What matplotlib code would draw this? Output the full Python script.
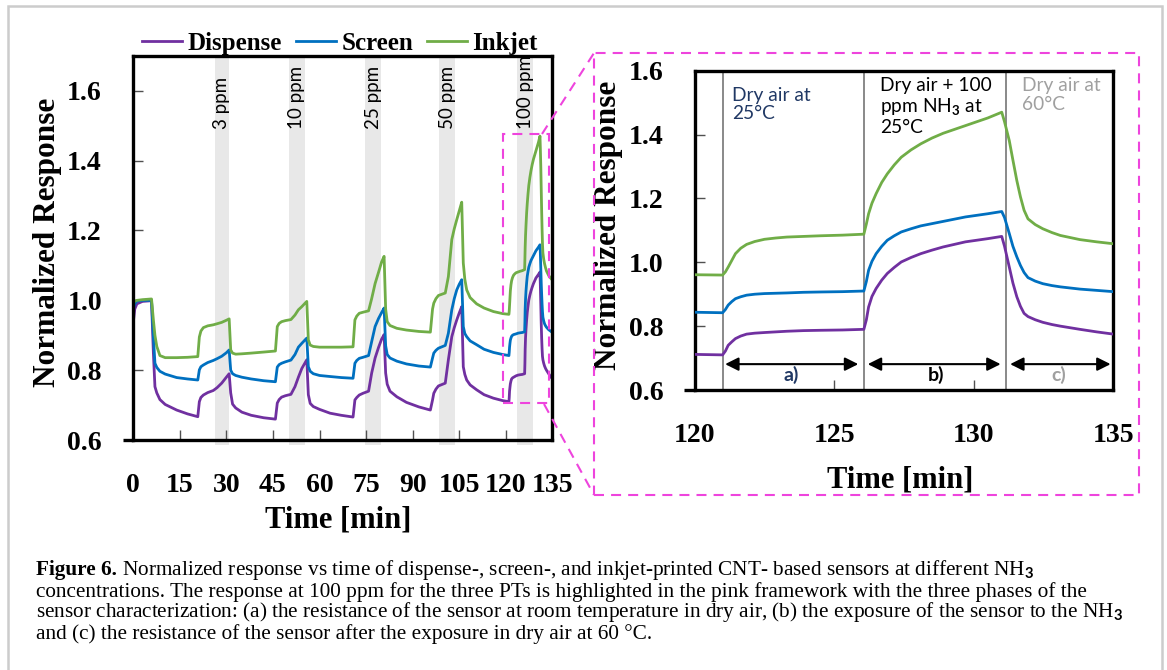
import numpy as np
import matplotlib.pyplot as plt
from matplotlib.patches import Rectangle
from matplotlib.lines import Line2D

plt.rcParams['font.family'] = 'Liberation Serif'
plt.rcParams['font.weight'] = 'bold'
plt.rcParams['axes.labelweight'] = 'bold'
plt.rcParams['mathtext.fontset'] = 'custom'
plt.rcParams['mathtext.rm'] = 'Lato'
plt.rcParams['mathtext.it'] = 'Lato:italic'
plt.rcParams['mathtext.bf'] = 'Lato:bold'

# time [min], shared by the three printing techniques
time_min = [0, 0.5, 1.2, 3.0, 5.9,
            6.5, 7.0, 7.6, 8.6, 10.3, 14.0, 17.5, 20.8,
            21.3, 21.8, 22.6, 24.0, 25.8, 27.0, 28.5, 30.0, 30.9,
            31.4, 32.0, 33.0, 35.0, 38.0, 42.0, 45.8,
            46.4, 47.0, 47.8, 49.0, 50.8, 52.1, 53.2, 54.3, 55.9,
            56.4, 57.0, 58.0, 60.0, 63.4, 67.0, 70.8,
            71.4, 72.0, 72.8, 74.0, 75.8, 76.8, 77.9, 79.0, 80.0, 80.8,
            81.3, 81.8, 82.7, 84.9, 88.0, 92.0, 95.7,
            96.4, 96.8, 97.5, 98.3, 100.5, 101.5, 102.6, 103.4, 104.2, 105.0, 105.8,
            106.3, 106.8, 107.4, 108.5, 110.6, 113.0, 116.0, 119.0, 121.0,
            121.1, 121.2, 121.33, 121.46, 121.65, 121.86, 122.15, 122.5, 122.9, 123.3,
            123.9, 124.5, 125.3, 126.06,
            126.15, 126.23, 126.35, 126.5, 126.7, 126.9, 127.15, 127.4, 127.75, 128.1,
            128.5, 128.9, 129.3, 129.7, 130.1, 130.5, 131.0,
            131.1, 131.27, 131.4, 131.54, 131.67, 131.8, 131.94, 132.2, 132.47, 132.8,
            133.1, 133.8, 134.4, 135.0]

dispense = [0.935, 0.975, 0.990, 0.997, 0.999,
            0.849, 0.753, 0.735, 0.716, 0.702, 0.686, 0.675, 0.667,
            0.710, 0.722, 0.729, 0.736, 0.742, 0.750, 0.763, 0.780, 0.790,
            0.735, 0.703, 0.692, 0.680, 0.671, 0.664, 0.660,
            0.706, 0.716, 0.723, 0.727, 0.731, 0.753, 0.780, 0.805, 0.830,
            0.730, 0.705, 0.696, 0.688, 0.677, 0.671, 0.666,
            0.715, 0.722, 0.729, 0.734, 0.740, 0.792, 0.835, 0.865, 0.889, 0.902,
            0.792, 0.760, 0.740, 0.724, 0.708, 0.695, 0.686,
            0.715, 0.734, 0.746, 0.755, 0.763, 0.830, 0.896, 0.922, 0.944, 0.964, 0.982,
            0.810, 0.788, 0.772, 0.758, 0.744, 0.730, 0.720, 0.713, 0.710,
            0.722, 0.740, 0.751, 0.761, 0.769, 0.775, 0.778, 0.780, 0.782, 0.784,
            0.786, 0.787, 0.788, 0.790,
            0.820, 0.860, 0.893, 0.918, 0.944, 0.965, 0.984, 1.001, 1.015, 1.027,
            1.038, 1.048, 1.056, 1.064, 1.069, 1.074, 1.081,
            1.050, 0.985, 0.935, 0.892, 0.862, 0.840, 0.830, 0.820, 0.812, 0.805,
            0.800, 0.790, 0.782, 0.775]

screen = [0.975, 0.990, 0.998, 1.000, 1.000,
          0.896, 0.820, 0.808, 0.797, 0.789, 0.779, 0.775, 0.772,
          0.801, 0.810, 0.815, 0.822, 0.828, 0.833, 0.840, 0.850, 0.858,
          0.800, 0.790, 0.785, 0.780, 0.775, 0.770, 0.767,
          0.809, 0.816, 0.820, 0.824, 0.829, 0.845, 0.866, 0.877, 0.892,
          0.810, 0.797, 0.790, 0.785, 0.782, 0.779, 0.777,
          0.820, 0.828, 0.834, 0.837, 0.842, 0.882, 0.925, 0.948, 0.965, 0.978,
          0.870, 0.845, 0.835, 0.826, 0.818, 0.812, 0.809,
          0.835, 0.849, 0.857, 0.863, 0.871, 0.906, 0.973, 1.005, 1.030, 1.046, 1.059,
          0.925, 0.905, 0.896, 0.884, 0.873, 0.860, 0.851, 0.845, 0.842,
          0.852, 0.866, 0.877, 0.886, 0.892, 0.897, 0.900, 0.902, 0.903, 0.904,
          0.906, 0.907, 0.908, 0.910,
          0.940, 0.975, 1.003, 1.027, 1.050, 1.069, 1.083, 1.095, 1.105, 1.114,
          1.121, 1.128, 1.135, 1.142, 1.147, 1.152, 1.159,
          1.140, 1.090, 1.050, 1.017, 0.990, 0.968, 0.952, 0.941, 0.933, 0.927,
          0.923, 0.916, 0.912, 0.908]

inkjet = [0.990, 0.998, 1.000, 1.002, 1.004,
          0.944, 0.900, 0.868, 0.842, 0.836, 0.836, 0.837, 0.839,
          0.895, 0.912, 0.922, 0.927, 0.930, 0.933, 0.937, 0.943, 0.947,
          0.858, 0.849, 0.846, 0.847, 0.849, 0.852, 0.855,
          0.925, 0.934, 0.939, 0.942, 0.945, 0.958, 0.973, 0.982, 0.997,
          0.887, 0.872, 0.868, 0.866, 0.866, 0.866, 0.867,
          0.944, 0.955, 0.963, 0.966, 0.970, 1.005, 1.048, 1.080, 1.110, 1.126,
          0.975, 0.939, 0.928, 0.920, 0.915, 0.911, 0.909,
          0.975, 0.992, 1.005, 1.014, 1.021, 1.068, 1.174, 1.205, 1.231, 1.256, 1.281,
          1.107, 1.060, 1.030, 1.008, 0.990, 0.978, 0.968, 0.962, 0.960,
          0.970, 0.985, 1.006, 1.027, 1.044, 1.056, 1.065, 1.072, 1.076, 1.079,
          1.081, 1.083, 1.085, 1.088,
          1.120, 1.152, 1.185, 1.215, 1.250, 1.277, 1.305, 1.329, 1.352, 1.371,
          1.389, 1.404, 1.416, 1.428, 1.440, 1.452, 1.470,
          1.440, 1.381, 1.320, 1.256, 1.205, 1.163, 1.136, 1.118, 1.105, 1.093,
          1.084, 1.071, 1.064, 1.058]

series_names = ['Dispense', 'Screen', 'Inkjet']
series_colors = ['#7030A0', '#0070C0', '#70AD47']

# NH3 exposure bands (grey) on the overview
band_start = [26.2, 50.2, 74.7, 98.6, 123.7]
band_end = [30.9, 55.3, 79.8, 103.6, 128.8]
band_labels = ['3 ppm', '10 ppm', '25 ppm', '50 ppm', '100 ppm']

# phases of the 100 ppm cycle
phase_lines = [121.0, 126.06, 131.16]
phase_arrows = [(121.09, 125.86), (126.2, 130.96), (131.3, 134.9)]
phase_tags = ['a)', 'b)', 'c)']
phase_texts = ['Dry air at\n25°C', 'Dry air + 100\nppm NH$_3$ at\n25°C', 'Dry air at\n60°C']
phase_colors = ['#203864', 'black', '#A0A0A0']

W, H = 1167, 670
fig = plt.figure(figsize=(W / 100, H / 100), dpi=100)


def px(x, y):
    return x / W, 1 - y / H


def ax_from_px(l, t, r, b):
    return fig.add_axes([l / W, 1 - b / H, (r - l) / W, (b - t) / H])


def style_axes(ax):
    for s in ax.spines.values():
        s.set_linewidth(2.4)
    ax.tick_params(direction='in', length=7, width=1, color='#505050',
                   labelsize=20, top=False, right=False)
    ax.tick_params(axis='x', pad=24)
    ax.tick_params(axis='y', pad=22.5)
    # x axis line sticks out a little to the left
    ax.plot([-0.025, 0], [0, 0], transform=ax.transAxes, color='black',
            lw=2.4, clip_on=False, solid_capstyle='butt')


# ---- overview ----
ax1 = ax_from_px(133.2, 55.8, 552.4, 440.1)
for s, e, lab in zip(band_start, band_end, band_labels):
    ax1.axvspan(s, e, ymin=-0.012, ymax=1, color='#E8E8E8', lw=0, clip_on=False, zorder=0)
    ax1.text((s + e) / 2, 1.49, lab, rotation=90, ha='center', va='bottom',
             family='Lato', weight='normal', fontsize=13.5)

for vals, name, c in zip([dispense, screen, inkjet], series_names, series_colors):
    ax1.plot(time_min, vals, color=c, lw=2, label=name)

ax1.set_xlim(0, 135)
ax1.set_ylim(0.6, 1.7)
ax1.set_xticks(np.arange(0, 136, 15))
ax1.set_yticks(np.arange(0.6, 1.61, 0.2))
ax1.yaxis.set_major_formatter(plt.FormatStrFormatter('%.1f'))
style_axes(ax1)
ax1.set_xlabel('Time [min]', fontsize=22, va='center')
ax1.xaxis.set_label_coords(0.49, -0.208)
ax1.set_ylabel('Normalized Response', fontsize=22.5, va='center')
ax1.yaxis.set_label_coords(-0.2056, 0.514)
ax1.legend(loc='center', bbox_to_anchor=(0.493, 1.033), ncol=3, frameon=False,
           prop=dict(family='Liberation Serif', weight='bold', size=18),
           handlelength=1.6, handletextpad=0.22, columnspacing=0.55, borderaxespad=0)

# pink frame around the 100 ppm response
pink = '#EE44DD'
dash = (0, (4.8, 3.4))
ax1.add_patch(Rectangle((119.1, 0.705), 134.0 - 119.1, 1.477 - 0.705, fill=False,
                        ec=pink, lw=1.5, ls=dash, clip_on=False, zorder=5))

# ---- zoom on the 100 ppm cycle ----
ax2 = ax_from_px(694.7, 70.7, 1113.4, 390)
for x in phase_lines:
    ax2.axvline(x, color='#808080', lw=1.3, zorder=1)
for vals, c in zip([dispense, screen, inkjet], series_colors):
    ax2.plot(time_min, vals, color=c, lw=2, zorder=3)

ax2.set_xlim(120, 135)
ax2.set_ylim(0.6, 1.6)
ax2.set_xticks([120, 125, 130, 135])
ax2.set_yticks(np.arange(0.6, 1.61, 0.2))
ax2.yaxis.set_major_formatter(plt.FormatStrFormatter('%.1f'))
style_axes(ax2)
ax2.set_xlabel('Time [min]', fontsize=22, va='center')
ax2.xaxis.set_label_coords(0.49, -0.282)
ax2.set_ylabel('Normalized Response', fontsize=22.5, va='center')
ax2.yaxis.set_label_coords(-0.2047, 0.517)

text_pos = [(121.33, 1.55), (126.65, 1.579), (131.73, 1.579)]
tag_x = [123.47, 128.65, 133.06]
for (x0, x1), (tx, ty), txt, tag, tgx, c in zip(phase_arrows, text_pos, phase_texts,
                                                  phase_tags, tag_x, phase_colors):
    ax2.annotate('', xy=(x1, 0.681), xytext=(x0, 0.681),
                 arrowprops=dict(arrowstyle='<|-|>', color='black', lw=1.5,
                                 mutation_scale=20, shrinkA=0, shrinkB=0))
    ax2.text(tx, ty, txt, ha='left', va='top', color=c, family='Lato',
             weight='normal', fontsize=13.8, linespacing=1.12)
    ax2.text(tgx, 0.647, tag, ha='center', va='center', color=c, family='Lato',
             weight='bold', fontsize=14)

# big dashed frame and connectors
x0, y0 = px(594, 495)
x1, y1 = px(1139, 53)
fig.patches.append(Rectangle((x0, y0), x1 - x0, y1 - y0, transform=fig.transFigure,
                             fill=False, ec=pink, lw=1.5, ls=dash))
for (a, b), (c, d) in [((542, 134), (594, 53)), ((544, 404), (594, 495))]:
    fig.lines.append(Line2D([a / W, c / W], [1 - b / H, 1 - d / H],
                            transform=fig.transFigure, color=pink, lw=1.5, ls=dash))

# outer light frame
fx0, fy0 = px(8, 672)
fx1, fy1 = px(1162, 6)
fig.patches.append(Rectangle((fx0, fy0), fx1 - fx0, fy1 - fy0, transform=fig.transFigure,
                             fill=False, ec='#CCCCCC', lw=1.8))

# caption
cap_lines = [' Normalized response vs time of dispense-, screen-, and inkjet-printed CNT- based sensors at different NH$_3$',
             'concentrations. The response at 100 ppm for the three PTs is highlighted in the pink framework with the three phases of the',
             'sensor characterization: (a) the resistance of the sensor at room temperature in dry air, (b) the exposure of the sensor to the NH$_3$',
             'and (c) the resistance of the sensor after the exposure in dry air at 60 °C.']
cap_base = [575, 596.5, 617.5, 638.5]
cap_size = 15.3
head = fig.text(*px(36, cap_base[0]), 'Figure 6.', fontsize=cap_size, weight='bold', va='baseline')
fig.canvas.draw()
hw = head.get_window_extent().width
for i, (txt, yb) in enumerate(zip(cap_lines, cap_base)):
    xs = 36 + hw if i == 0 else 36
    fig.text(*px(xs, yb), txt, fontsize=cap_size, weight='normal', va='baseline')

fig.savefig('out.png', dpi=100)
